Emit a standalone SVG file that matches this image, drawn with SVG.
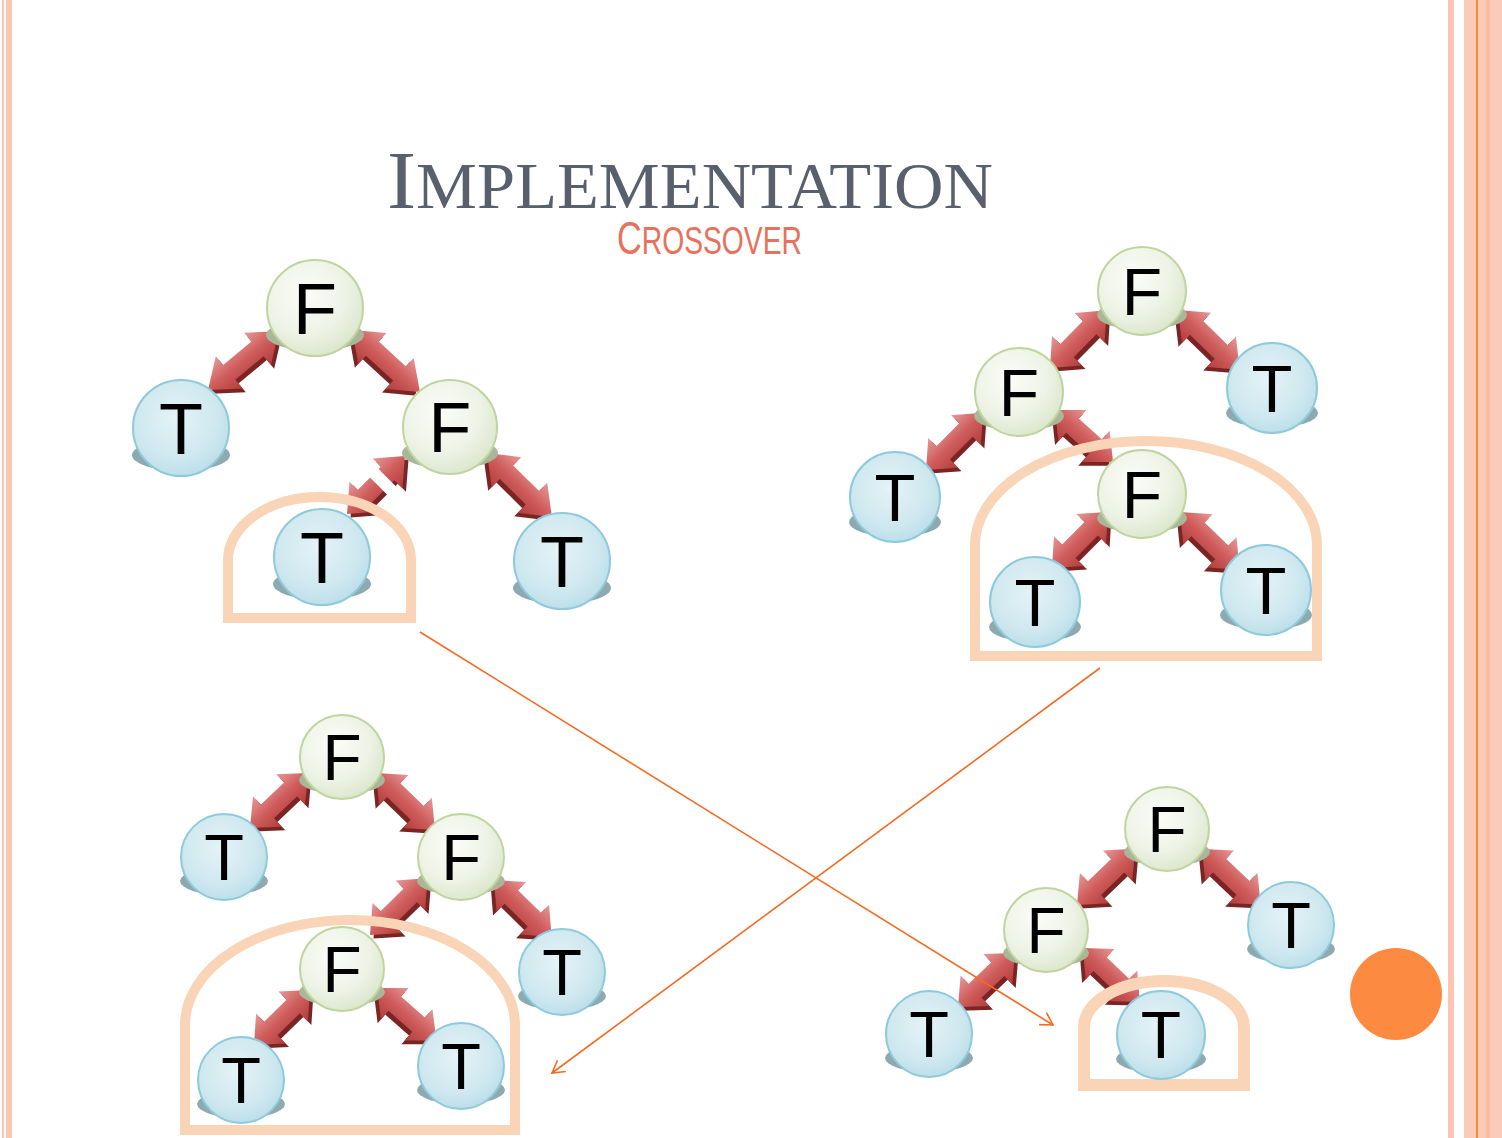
<svg xmlns="http://www.w3.org/2000/svg" xmlns:xlink="http://www.w3.org/1999/xlink" width="1502" height="1138" viewBox="0 0 1502 1138">
<style>
.bd{fill:#fcc6b3}
.title{font-family:"Liberation Serif","Times New Roman",serif;fill:#58606d}
.sub{font-family:"Liberation Sans",Arial,sans-serif;fill:#e8715c}
.cF{fill:url(#gF);stroke:#bfd59f;stroke-width:2}
.cT{fill:url(#gT);stroke:#8ecadb;stroke-width:2}
.sF{fill:#a9b798}
.sT{fill:#8fa9b0}
.lbl{font-family:"Liberation Sans",Arial,sans-serif;fill:#000;text-anchor:middle}
.af{fill:url(#gA)}
.ash{fill:#7a2424}
.arch{fill:none;stroke:#f9d4b6;stroke-width:10}
.cx{fill:none;stroke:#f36b22;stroke-width:1.6;marker-end:url(#oa)}
</style>
<defs>
<radialGradient id="gF" cx="0.4" cy="0.35" r="0.7">
<stop offset="0" stop-color="#fbfcf7"/>
<stop offset="0.6" stop-color="#eef3e6"/>
<stop offset="1" stop-color="#dae5ca"/>
</radialGradient>
<radialGradient id="gT" cx="0.45" cy="0.4" r="0.7">
<stop offset="0" stop-color="#e4f3f7"/>
<stop offset="0.6" stop-color="#cfe8ef"/>
<stop offset="1" stop-color="#b3dae6"/>
</radialGradient>
<linearGradient id="gA" x1="0" y1="0" x2="0" y2="1">
<stop offset="0" stop-color="#e79898"/>
<stop offset="0.5" stop-color="#cf5d5c"/>
<stop offset="1" stop-color="#b13c3c"/>
</linearGradient>
<path id="arr" d="M0,0 L24,-21 L24,-9.5 L56,-9.5 L56,-21 L80,0 L56,21 L56,9.5 L24,9.5 L24,21 Z"/>
<marker id="oa" markerWidth="16" markerHeight="16" refX="13" refY="8" orient="auto" markerUnits="userSpaceOnUse">
<path d="M1,1 L13,8 L1,15" fill="none" stroke="#f36b22" stroke-width="1.6"/>
</marker>
</defs>
<rect width="1502" height="1138" fill="#ffffff"/>
<g id="border">
<rect class="bd" x="2" y="0" width="2" height="1138"/>
<rect class="bd" x="6" y="0" width="6" height="1138"/>
<rect class="bd" x="1448" y="0" width="6" height="1138"/>
<rect fill="#fccbb7" x="1464" y="0" width="38" height="1138"/>
<rect fill="#fcbca1" x="1486" y="0" width="4" height="1138"/>
<rect fill="#f98a3e" x="1476" y="0" width="2" height="1138"/>
</g>
<g id="title">
<text class="title" x="387" y="208" textLength="606" lengthAdjust="spacingAndGlyphs"><tspan font-size="83">I</tspan><tspan font-size="65">MPLEMENTATION</tspan></text>
<text class="sub" x="617" y="254" textLength="185" lengthAdjust="spacingAndGlyphs"><tspan font-size="46">C</tspan><tspan font-size="38">ROSSOVER</tspan></text>
</g>
<g id="edges">
<g transform="translate(208,390) rotate(-39.7) scale(1.15,1)"><use href="#arr" class="ash" y="5"/><use href="#arr" class="af"/></g>
<g transform="translate(352,330) rotate(42.4) scale(1.15,1)"><use href="#arr" class="ash" y="5"/><use href="#arr" class="af"/></g>
<g transform="translate(347,514) rotate(-45) scale(1.025,1)"><use href="#arr" class="ash" y="5"/><use href="#arr" class="af"/></g>
<g transform="translate(487,453) rotate(44.6) scale(1.14,1)"><use href="#arr" class="ash" y="5"/><use href="#arr" class="af"/></g>
<g transform="translate(1050,368) rotate(-45.5) scale(1.01,1)"><use href="#arr" class="ash" y="5"/><use href="#arr" class="af"/></g>
<g transform="translate(1178,310) rotate(44) scale(1.075,1)"><use href="#arr" class="ash" y="5"/><use href="#arr" class="af"/></g>
<g transform="translate(926,470) rotate(-45) scale(1.01,1)"><use href="#arr" class="ash" y="5"/><use href="#arr" class="af"/></g>
<g transform="translate(1055,410) rotate(41.9) scale(0.975,1)"><use href="#arr" class="ash" y="5"/><use href="#arr" class="af"/></g>
<g transform="translate(1052,568) rotate(-45) scale(0.99,1)"><use href="#arr" class="ash" y="5"/><use href="#arr" class="af"/></g>
<g transform="translate(1180,512) rotate(44) scale(1.04,1)"><use href="#arr" class="ash" y="5"/><use href="#arr" class="af"/></g>
<g transform="translate(250,828) rotate(-43.5) scale(1,1)"><use href="#arr" class="ash" y="5"/><use href="#arr" class="af"/></g>
<g transform="translate(376,773) rotate(44) scale(1.025,1)"><use href="#arr" class="ash" y="5"/><use href="#arr" class="af"/></g>
<g transform="translate(370,935) rotate(-44.5) scale(1.01,1)"><use href="#arr" class="ash" y="5"/><use href="#arr" class="af"/></g>
<g transform="translate(494,880) rotate(44.5) scale(1.01,1)"><use href="#arr" class="ash" y="5"/><use href="#arr" class="af"/></g>
<g transform="translate(254,1045) rotate(-44.5) scale(0.98,1)"><use href="#arr" class="ash" y="5"/><use href="#arr" class="af"/></g>
<g transform="translate(377,988) rotate(41.4) scale(0.99,1)"><use href="#arr" class="ash" y="5"/><use href="#arr" class="af"/></g>
<g transform="translate(1077,905) rotate(-44) scale(1.01,1)"><use href="#arr" class="ash" y="5"/><use href="#arr" class="af"/></g>
<g transform="translate(1202,849) rotate(43.5) scale(1.01,1)"><use href="#arr" class="ash" y="5"/><use href="#arr" class="af"/></g>
<g transform="translate(958,1007) rotate(-43.5) scale(0.98,1)"><use href="#arr" class="ash" y="5"/><use href="#arr" class="af"/></g>
<g transform="translate(1083,948) rotate(43.5) scale(0.98,1)"><use href="#arr" class="ash" y="5"/><use href="#arr" class="af"/></g>
<line x1="358" y1="457" x2="404" y2="503" stroke="#ffffff" stroke-width="12"/>
</g>
<g id="arches">
<path class="arch" d="M228,618 V560 A91.5,63 0 0 1 411,560 V618 Z"/>
<path class="arch" d="M975,656 V545 A171,104 0 0 1 1317,545 V656 Z"/>
<path class="arch" d="M185,1130 V1025 A165,105 0 0 1 515,1025 V1130 Z"/>
<path class="arch" style="stroke-width:12" d="M1084,1085 V1027 A80,46 0 0 1 1244,1027 V1085 Z"/>
</g>
<g id="n1"><ellipse class="sF" cx="315" cy="335" rx="49" ry="16"/><circle class="cF" cx="315" cy="308" r="48"/><text class="lbl" x="315" y="334" font-size="72">F</text></g>
<g id="n2"><ellipse class="sT" cx="181" cy="455" rx="49" ry="16"/><circle class="cT" cx="181" cy="428" r="48"/><text class="lbl" x="181" y="454" font-size="72">T</text></g>
<g id="n3"><ellipse class="sF" cx="450" cy="453" rx="48" ry="16"/><circle class="cF" cx="450" cy="427" r="47"/><text class="lbl" x="450" y="452" font-size="70">F</text></g>
<g id="n4"><ellipse class="sT" cx="322" cy="584" rx="49" ry="16"/><circle class="cT" cx="322" cy="557" r="48"/><text class="lbl" x="322" y="583" font-size="72">T</text></g>
<g id="n5"><ellipse class="sT" cx="562" cy="588" rx="49" ry="16"/><circle class="cT" cx="562" cy="561" r="48"/><text class="lbl" x="562" y="587" font-size="72">T</text></g>
<g id="n6"><ellipse class="sF" cx="1142" cy="315" rx="45" ry="15"/><circle class="cF" cx="1142" cy="291" r="44"/><text class="lbl" x="1142" y="315" font-size="66">F</text></g>
<g id="n7"><ellipse class="sF" cx="1019" cy="416" rx="45" ry="15"/><circle class="cF" cx="1019" cy="392" r="44"/><text class="lbl" x="1019" y="416" font-size="66">F</text></g>
<g id="n8"><ellipse class="sT" cx="1272" cy="413" rx="46" ry="15"/><circle class="cT" cx="1272" cy="388" r="45"/><text class="lbl" x="1272" y="412" font-size="67">T</text></g>
<g id="n9"><ellipse class="sT" cx="895" cy="522" rx="46" ry="15"/><circle class="cT" cx="895" cy="497" r="45"/><text class="lbl" x="895" y="521" font-size="67">T</text></g>
<g id="n10"><ellipse class="sF" cx="1142" cy="518" rx="45" ry="15"/><circle class="cF" cx="1142" cy="494" r="44"/><text class="lbl" x="1142" y="518" font-size="66">F</text></g>
<g id="n11"><ellipse class="sT" cx="1035" cy="627" rx="46" ry="15"/><circle class="cT" cx="1035" cy="602" r="45"/><text class="lbl" x="1035" y="626" font-size="67">T</text></g>
<g id="n12"><ellipse class="sT" cx="1266" cy="615" rx="46" ry="15"/><circle class="cT" cx="1266" cy="590" r="45"/><text class="lbl" x="1266" y="614" font-size="67">T</text></g>
<g id="n13"><ellipse class="sF" cx="342" cy="780" rx="43" ry="14"/><circle class="cF" cx="342" cy="757" r="42"/><text class="lbl" x="342" y="780" font-size="64">F</text></g>
<g id="n14"><ellipse class="sT" cx="224" cy="881" rx="44" ry="14"/><circle class="cT" cx="224" cy="857" r="43"/><text class="lbl" x="224" y="880" font-size="65">T</text></g>
<g id="n15"><ellipse class="sF" cx="461" cy="881" rx="44" ry="14"/><circle class="cF" cx="461" cy="857" r="43"/><text class="lbl" x="461" y="880" font-size="65">F</text></g>
<g id="n16"><ellipse class="sF" cx="342" cy="992" rx="43" ry="14"/><circle class="cF" cx="342" cy="969" r="42"/><text class="lbl" x="342" y="992" font-size="64">F</text></g>
<g id="n17"><ellipse class="sT" cx="562" cy="996" rx="44" ry="14"/><circle class="cT" cx="562" cy="972" r="43"/><text class="lbl" x="562" y="995" font-size="65">T</text></g>
<g id="n18"><ellipse class="sT" cx="241" cy="1104" rx="44" ry="14"/><circle class="cT" cx="241" cy="1080" r="43"/><text class="lbl" x="241" y="1103" font-size="65">T</text></g>
<g id="n19"><ellipse class="sT" cx="461" cy="1090" rx="44" ry="14"/><circle class="cT" cx="461" cy="1066" r="43"/><text class="lbl" x="461" y="1089" font-size="65">T</text></g>
<g id="n20"><ellipse class="sF" cx="1167" cy="852" rx="43" ry="14"/><circle class="cF" cx="1167" cy="829" r="42"/><text class="lbl" x="1167" y="852" font-size="64">F</text></g>
<g id="n21"><ellipse class="sF" cx="1046" cy="953" rx="43" ry="14"/><circle class="cF" cx="1046" cy="930" r="42"/><text class="lbl" x="1046" y="953" font-size="64">F</text></g>
<g id="n22"><ellipse class="sT" cx="1291" cy="949" rx="44" ry="14"/><circle class="cT" cx="1291" cy="925" r="43"/><text class="lbl" x="1291" y="948" font-size="65">T</text></g>
<g id="n23"><ellipse class="sT" cx="929" cy="1058" rx="44" ry="14"/><circle class="cT" cx="929" cy="1034" r="43"/><text class="lbl" x="929" y="1057" font-size="65">T</text></g>
<g id="n24"><ellipse class="sT" cx="1161" cy="1059" rx="45" ry="14"/><circle class="cT" cx="1161" cy="1035" r="44"/><text class="lbl" x="1161" y="1058" font-size="66">T</text></g>
<g id="connectors">
<line class="cx" x1="420" y1="632" x2="1053" y2="1025"/>
<line class="cx" x1="1100" y1="668" x2="552" y2="1073"/>
</g>
<circle id="dot" cx="1396" cy="994" r="46" fill="#fd8a41"/>
</svg>
